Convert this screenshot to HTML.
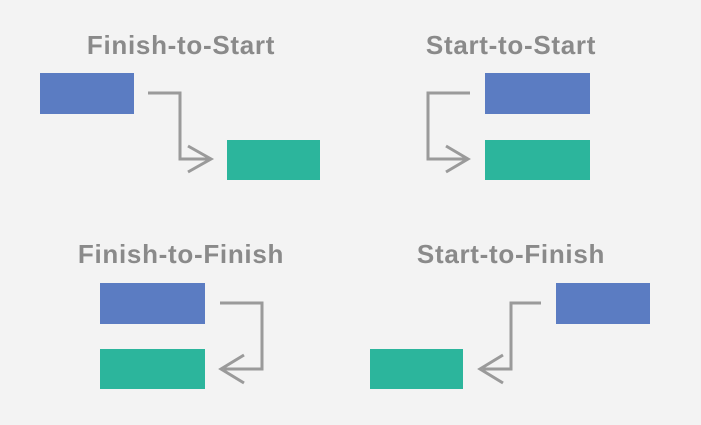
<!DOCTYPE html>
<html><head><style>
html,body{margin:0;padding:0;background:#f3f3f3;}
svg{display:block}
text{font-family:"Liberation Sans",sans-serif;font-weight:bold;font-size:26px;letter-spacing:0.7px;fill:#8a8a8a;text-anchor:middle}
</style></head><body>
<svg width="701" height="425" viewBox="0 0 701 425">
<rect width="701" height="425" fill="#f3f3f3"/>
<text x="181" y="54">Finish-to-Start</text>
<text x="511" y="54">Start-to-Start</text>
<text x="181" y="263">Finish-to-Finish</text>
<text x="511" y="263">Start-to-Finish</text>
<g fill="#5b7cc2">
<rect x="40" y="73" width="94" height="41"/>
<rect x="485" y="73" width="105" height="41"/>
<rect x="100" y="283" width="105" height="41"/>
<rect x="556" y="283" width="94" height="41"/>
</g>
<g fill="#2cb59c">
<rect x="227" y="140" width="93" height="40"/>
<rect x="485" y="140" width="105" height="40"/>
<rect x="100" y="349" width="105" height="40"/>
<rect x="370" y="349" width="93" height="40"/>
</g>
<g fill="none" stroke="#9a9a9a" stroke-width="3">
<polyline points="148,93 180,93 180,159 210,159"/>
<polyline points="188,146 211,159 188,172"/>
<polyline points="470,93 428,93 428,159 466,159"/>
<polyline points="446,146 468,159 446,172"/>
<polyline points="220,303 262,303 262,369 224,369"/>
<polyline points="244,355 221,369 244,383"/>
<polyline points="541,303 511,303 511,369 483,369"/>
<polyline points="503,355 480,369 503,383"/>
</g>
</svg>
</body></html>
